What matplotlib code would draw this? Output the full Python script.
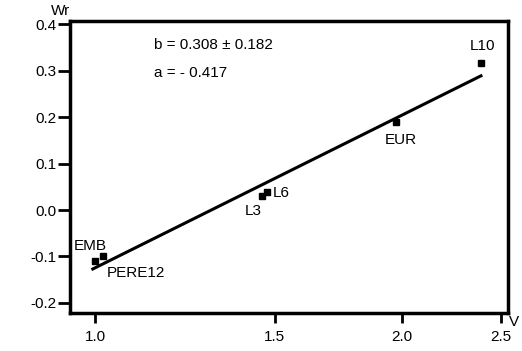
import matplotlib
matplotlib.use('Agg')
import matplotlib.pyplot as plt
from matplotlib.ticker import FixedLocator, FixedFormatter, NullLocator

plt.rcParams['font.family'] = ['Liberation Sans', 'DejaVu Sans']

# data
names = ['EMB', 'PERE12', 'L3', 'L6', 'EUR', 'L10']
v = [1.0, 1.018, 1.458, 1.474, 1.973, 2.39]
wr = [-0.11, -0.10, 0.031, 0.038, 0.189, 0.316]

line_v = [0.995, 2.39]
line_wr = [-0.127, 0.289]

xticks = [1.0, 1.5, 2.0, 2.5]
yticks = [-0.2, -0.1, 0.0, 0.1, 0.2, 0.3, 0.4]

fig = plt.figure(figsize=(5.22, 3.51), dpi=100)
ax = fig.add_axes([0.134, 0.108, 0.839, 0.832])

ax.plot(line_v, line_wr, color='black', lw=2.2)
ax.plot(v, wr, 's', color='black', ms=4.5)

# label offsets in pixels (left edge, vertical centre)
offs = {'EMB': (-21, 15), 'PERE12': (4, -17), 'L3': (-17, -15),
        'L6': (6, -1), 'EUR': (-11, -18), 'L10': (-11, 17)}
for n, x, y in zip(names, v, wr):
    ax.annotate(n, (x, y), xytext=offs[n], textcoords='offset pixels',
                fontsize=11, va='center', ha='left')

ax.set_xscale('log')
ax.set_xlim(0.945, 2.54)
ax.set_ylim(-0.222, 0.407)
ax.xaxis.set_major_locator(FixedLocator(xticks))
ax.xaxis.set_major_formatter(FixedFormatter(['%.1f' % t for t in xticks]))
ax.xaxis.set_minor_locator(NullLocator())
ax.set_yticks(yticks)
ax.set_yticklabels(['%.1f' % t for t in yticks])

for s in ax.spines.values():
    s.set_linewidth(2.5)
ax.tick_params(axis='x', direction='out', length=7, width=2, labelsize=11, pad=5)
ax.tick_params(axis='y', direction='out', length=9, width=2, labelsize=11, pad=0.5)

ax.text(0.192, 0.918, 'b = 0.308 \u00b1 0.182', transform=ax.transAxes, fontsize=11,
        va='center')
ax.text(0.192, 0.822, 'a = - 0.417', transform=ax.transAxes, fontsize=11,
        va='center')

fig.text(0.098, 0.968, 'Wr', fontsize=11, va='center')
fig.text(0.975, 0.083, 'V', fontsize=11, va='center')

fig.savefig('out.png', dpi=100)
